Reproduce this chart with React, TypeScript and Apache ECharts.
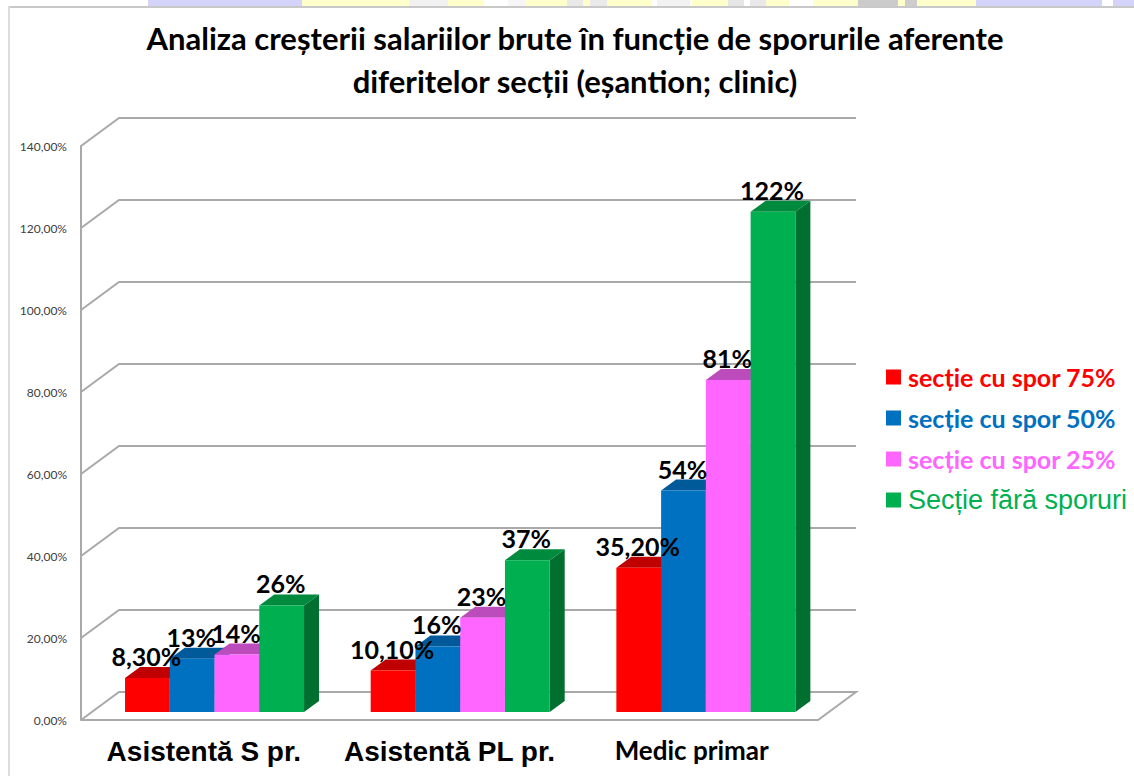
import React, { useEffect, useRef } from "react";
import * as echarts from "echarts";

const titleLines = [
  "Analiza creșterii salariilor brute în funcție de sporurile aferente",
  "diferitelor secții (eșantion; clinic)",
];
const categories = ["Asistentă S pr.", "Asistentă PL pr.", "Medic primar"];
const seriesNames = ["secție cu spor 75%", "secție cu spor 50%", "secție cu spor 25%", "Secție fără sporuri"];
const spor75 = [8.3, 10.1, 35.2];
const spor50 = [13, 16, 54];
const spor25 = [14, 23, 81];
const faraSpor = [26, 37, 122];
const labels75 = ["8,30%", "10,10%", "35,20%"];
const labels50 = ["13%", "16%", "54%"];
const labels25 = ["14%", "23%", "81%"];
const labelsFara = ["26%", "37%", "122%"];
const yTicks = [0, 20, 40, 60, 80, 100, 120, 140];

const fronts = ["#FF0000", "#0070C0", "#FF66FF", "#00B050"];
const tops = ["#C00000", "#005A9A", "#BC4CBC", "#008A3E"];
const sides = ["#A80000", "#004F88", "#A040A0", "#006F30"];

const DEPTH_X = 38;
const DEPTH_Y = 28;
const BAR_W = 44.75;
const BAR_DX = 15;
const BAR_DY = 11;
const BAR_LIFT = 8;
const GROUP_SHIFT = 10.7;
const LINE = "#A9A9A9";

const STRIP = [
  [148, 302, "#D4D4FA"], [302, 409, "#FFFFCC"], [409, 448, "#F1F1F1"], [448, 484, "#FFFFCC"],
  [484, 508, "#FFFFFF"], [508, 525, "#F6F6F6"], [525, 567, "#FFFFCC"], [567, 583, "#E9E9E9"],
  [583, 590, "#FFFFCC"], [590, 607, "#EAEAEA"], [607, 652, "#FFFFCC"], [657, 690, "#F2F2F2"],
  [692, 728, "#FFFFCC"], [728, 744, "#E6E6E6"], [750, 766, "#E9E9E9"], [766, 789, "#FFFFCC"],
  [813, 829, "#FFFFCC"], [829, 858, "#FFFFCC"], [858, 898, "#CBCBCB"], [898, 905, "#FFFFCC"],
  [905, 917, "#CDCDCD"], [917, 976, "#FFFFCC"], [976, 1102, "#D4D4FA"], [1113, 1134, "#D4D4FA"],
] as [number, number, string][];

function poly(points: number[][], fill: string, z2: number) {
  return { type: "polygon", z2, shape: { points }, style: { fill, stroke: "none" }, silent: true };
}

function barSeries(idx: number, values: number[], labels: string[]) {
  return {
    type: "custom",
    name: seriesNames[idx],
    z: 3,
    itemStyle: { color: fronts[idx] },
    data: values.map((v, i) => [i, v]),
    encode: { x: 0, y: 1 },
    renderItem: (_p: any, api: any) => {
      const catIndex = api.value(0);
      const v = api.value(1);
      const top = api.coord([catIndex, v]);
      const base = api.coord([catIndex, 0]);
      const x0 = top[0] + GROUP_SHIFT + (idx - 2) * BAR_W;
      const x1 = x0 + BAR_W;
      const yt = top[1] - BAR_LIFT;
      const yb = base[1] - BAR_LIFT;
      return {
        type: "group",
        children: [
          poly([[x1, yb], [x1 + BAR_DX, yb - BAR_DY], [x1 + BAR_DX, yt - BAR_DY], [x1, yt]], sides[idx], 10 + idx),
          poly([[x0, yt], [x0 + BAR_DX, yt - BAR_DY], [x1 + BAR_DX, yt - BAR_DY], [x1, yt]], tops[idx], 10 + idx),
          poly([[x0, yb], [x1, yb], [x1, yt], [x0, yt]], fronts[idx], 10 + idx),
          {
            type: "text",
            z2: 100,
            silent: true,
            style: {
              text: labels[catIndex],
              x: x0 + BAR_W / 2 - 1,
              y: yt - 22,
              align: "center",
              verticalAlign: "middle",
              fill: "#000",
              font: "bold 25px Lato",
            },
          },
        ],
      };
    },
  };
}

export default function App() {
  const ref = useRef<HTMLDivElement>(null);
  useEffect(() => {
    const chart = echarts.init(ref.current!, undefined, { renderer: "svg" });
    chart.setOption({
      animation: false,
      backgroundColor: "#fff",
      title: { show: false },
      tooltip: { show: false },
      grid: { left: 81, right: 316, top: 146, bottom: 56 },
      legend: {
        orient: "vertical",
        left: 881,
        top: 356,
        itemWidth: 15,
        itemHeight: 15,
        itemGap: 9,
        icon: "rect",
        selectedMode: false,
        data: seriesNames.map((name, i) => ({
          name,
          itemStyle: { color: fronts[i] },
          textStyle:
            i === 3
              ? { color: fronts[i], fontFamily: "Liberation Sans", fontSize: 27, fontWeight: "normal", lineHeight: 32, padding: [0, 0, 0, 2] }
              : { color: fronts[i], fontFamily: "Lato", fontSize: 25, fontWeight: "bold", lineHeight: 32, padding: [0, 0, 0, 2] },
        })),
      },
      xAxis: {
        type: "category",
        data: categories.map((value, i) => ({
          value,
          textStyle:
            i === 2
              ? { fontFamily: "Lato", fontSize: 26, fontWeight: "bold", color: "#000", padding: [0, 7, 0, 0] }
              : { fontFamily: "Liberation Sans", fontSize: 28, fontWeight: "bold", color: "#000" },
        })),
        axisLine: { show: false },
        axisTick: { show: false },
        axisLabel: { margin: 17, interval: 0 },
      },
      yAxis: {
        type: "value",
        min: 0,
        max: 140,
        interval: 20,
        axisLine: { show: true, lineStyle: { color: LINE, width: 2 } },
        axisTick: { show: false },
        splitLine: { show: false },
        axisLabel: {
          margin: 14,
          fontFamily: "Lato",
          fontSize: 12,
          color: "#404040",
          formatter: (v: number) => v.toFixed(2).replace(".", ",") + "%",
        },
      },
      graphic: [
        ...STRIP.map(([a, b, fill]) => ({
          type: "rect",
          silent: true,
          shape: { x: a, y: 0, width: b - a, height: 7 },
          style: { fill },
        })),
        { type: "rect", silent: true, shape: { x: 8, y: 6, width: 1126, height: 2 }, style: { fill: "#C8C8C8" } },
        { type: "rect", silent: true, shape: { x: 8, y: 6, width: 2, height: 770 }, style: { fill: "#DCDCDC" } },
        ...titleLines.map((text, i) => ({
          type: "text",
          silent: true,
          style: {
            text,
            x: 575,
            y: 38 + i * 43,
            align: "center",
            verticalAlign: "middle",
            fill: "#000",
            font: "bold 31px Lato",
          },
        })),
      ],
      series: [
        {
          type: "custom",
          z: 1,
          silent: true,
          data: yTicks.map((t) => [0, t]),
          encode: { x: 0, y: 1 },
          renderItem: (p: any, api: any) => {
            const v = api.value(1);
            const y = api.coord([0, v])[1];
            const left = p.coordSys.x;
            const right = left + p.coordSys.width;
            const pts = [[left, y], [left + DEPTH_X, y - DEPTH_Y], [right + DEPTH_X, y - DEPTH_Y]];
            if (v === 0) pts.push([right, y], [left, y]);
            return {
              type: "polyline",
              shape: { points: pts },
              style: { stroke: LINE, lineWidth: 2, fill: "none" },
            };
          },
        },
        barSeries(0, spor75, labels75),
        barSeries(1, spor50, labels50),
        barSeries(2, spor25, labels25),
        barSeries(3, faraSpor, labelsFara),
      ],
    });
    return () => chart.dispose();
  }, []);
  return <div ref={ref} style={{ position: "absolute", left: 0, top: 0, width: 1134, height: 776 }} />;
}
